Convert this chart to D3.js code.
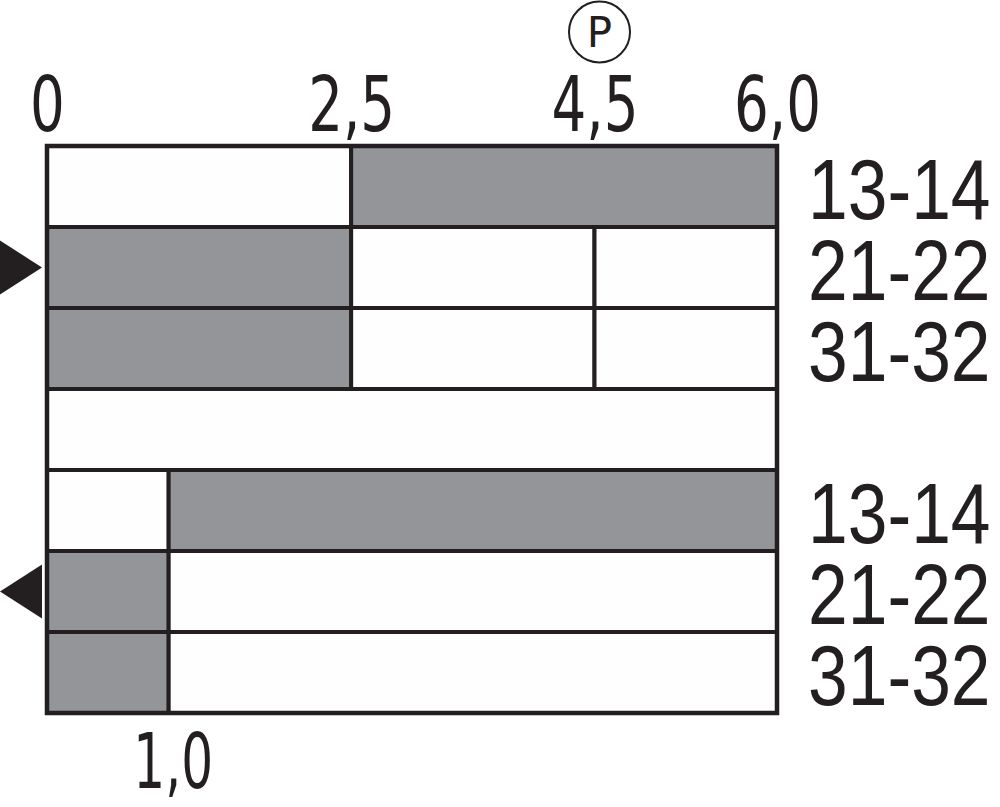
<html>
<script src="https://d3js.org/d3.v7.min.js"></script>
<style>
  body { margin: 0; background: #fff; }
</style>
<body>
<svg width="1000" height="807"></svg>
<script>
// contact rows, top to bottom (blank row separates the two switch positions)
var contactLabels = ["13-14", "21-22", "31-32", "", "13-14", "21-22", "31-32"];
// travel positions where a row changes cell
var rowBreaks = [[2.5], [2.5, 4.5], [2.5, 4.5], [], [1.0], [1.0], [1.0]];
// closed (grey) or open (white) for each cell of a row
var rowClosed = [[false, true], [true, false, false], [true, false, false], [false],
                 [false, true], [true, false], [true, false]];

var topTicks = [0, 2.5, 4.5, 6.0];
var topTickLabels = ["0", "2,5", "4,5", "6,0"];
var bottomTicks = [1.0];
var bottomTickLabels = ["1,0"];
var pointP = 4.5;

// direction arrows: row index and which way it points
var arrows = [{row: 1, dir: "right"}, {row: 5, dir: "left"}];

var ink = "#231f20";
var grey = "#939598";

var svg = d3.select("svg");

var x = d3.scaleLinear().domain([0, 6]).range([47, 777]);
var y = d3.scaleBand().domain(d3.range(contactLabels.length)).range([146, 713]);

// cells
var rows = svg.append("g").selectAll("g")
  .data(contactLabels)
  .join("g");

rows.selectAll("rect")
  .data(function(d, i) {
    var b = [0].concat(rowBreaks[i]).concat([6]);
    var cells = [];
    for (var j = 0; j < b.length - 1; j++) {
      cells.push({row: i, from: b[j], to: b[j + 1], closed: rowClosed[i][j]});
    }
    return cells;
  })
  .join("rect")
    .attr("x", d => x(d.from))
    .attr("y", d => y(d.row))
    .attr("width", d => x(d.to) - x(d.from))
    .attr("height", y.bandwidth())
    .attr("fill", d => d.closed ? grey : "#fefefe")
    .attr("stroke", ink)
    .attr("stroke-width", 4);

// outer frame
svg.append("rect")
  .attr("x", x(0)).attr("y", y.range()[0])
  .attr("width", x(6) - x(0)).attr("height", y.range()[1] - y.range()[0])
  .attr("fill", "none").attr("stroke", ink).attr("stroke-width", 4.5);

// row labels
svg.append("g").selectAll("text")
  .data(contactLabels)
  .join("text")
    .attr("x", x(6) + 31)
    .attr("y", (d, i) => y(i) + y.bandwidth() / 2 + 32)
    .attr("font-family", "Liberation Sans, Arial, sans-serif")
    .attr("font-size", 86)
    .attr("fill", ink)
    .text(d => d)
    .each(function() {
      var w = this.getComputedTextLength();
      if (w > 0) d3.select(this).attr("textLength", w * 0.83).attr("lengthAdjust", "spacingAndGlyphs");
    });

// top scale
var topAxis = svg.append("g").attr("transform", "translate(0,131)")
  .call(d3.axisTop(x).tickValues(topTicks).tickFormat((d, i) => topTickLabels[i]).tickSize(0).tickPadding(0));
topAxis.select(".domain").remove();
topAxis.selectAll("text")
  .attr("font-family", "DejaVu Sans, sans-serif")
  .attr("font-size", 76)
  .attr("fill", ink)
  .each(function() {
    var w = this.getComputedTextLength();
    d3.select(this).attr("textLength", w * 0.72).attr("lengthAdjust", "spacingAndGlyphs");
  });

// bottom scale
var bottomAxis = svg.append("g").attr("transform", "translate(4,788)")
  .call(d3.axisBottom(x).tickValues(bottomTicks).tickFormat((d, i) => bottomTickLabels[i]).tickSize(0).tickPadding(0));
bottomAxis.select(".domain").remove();
bottomAxis.selectAll("text")
  .attr("dy", "0")
  .attr("font-family", "DejaVu Sans, sans-serif")
  .attr("font-size", 76)
  .attr("fill", ink)
  .each(function() {
    var w = this.getComputedTextLength();
    d3.select(this).attr("textLength", w * 0.66).attr("lengthAdjust", "spacingAndGlyphs");
  });

// P marker above the 4,5 position
var p = svg.append("g").attr("transform", "translate(" + (x(pointP) + 5) + ",32)");
p.append("circle").attr("r", 30.5).attr("fill", "none").attr("stroke", ink).attr("stroke-width", 2);
p.append("text")
  .attr("text-anchor", "middle")
  .attr("y", 15)
  .attr("font-family", "DejaVu Sans, sans-serif")
  .attr("font-size", 42)
  .attr("fill", ink)
  .text("P");

// arrows
svg.append("g").selectAll("path")
  .data(arrows)
  .join("path")
    .attr("d", function(d) {
      var cy = y(d.row) + y.bandwidth() / 2;
      if (d.dir === "right") return "M0," + (cy - 27) + "L42," + cy + "L0," + (cy + 27) + "Z";
      return "M42," + (cy - 27) + "L0," + cy + "L42," + (cy + 27) + "Z";
    })
    .attr("fill", ink);
</script>
</body>
</html>
